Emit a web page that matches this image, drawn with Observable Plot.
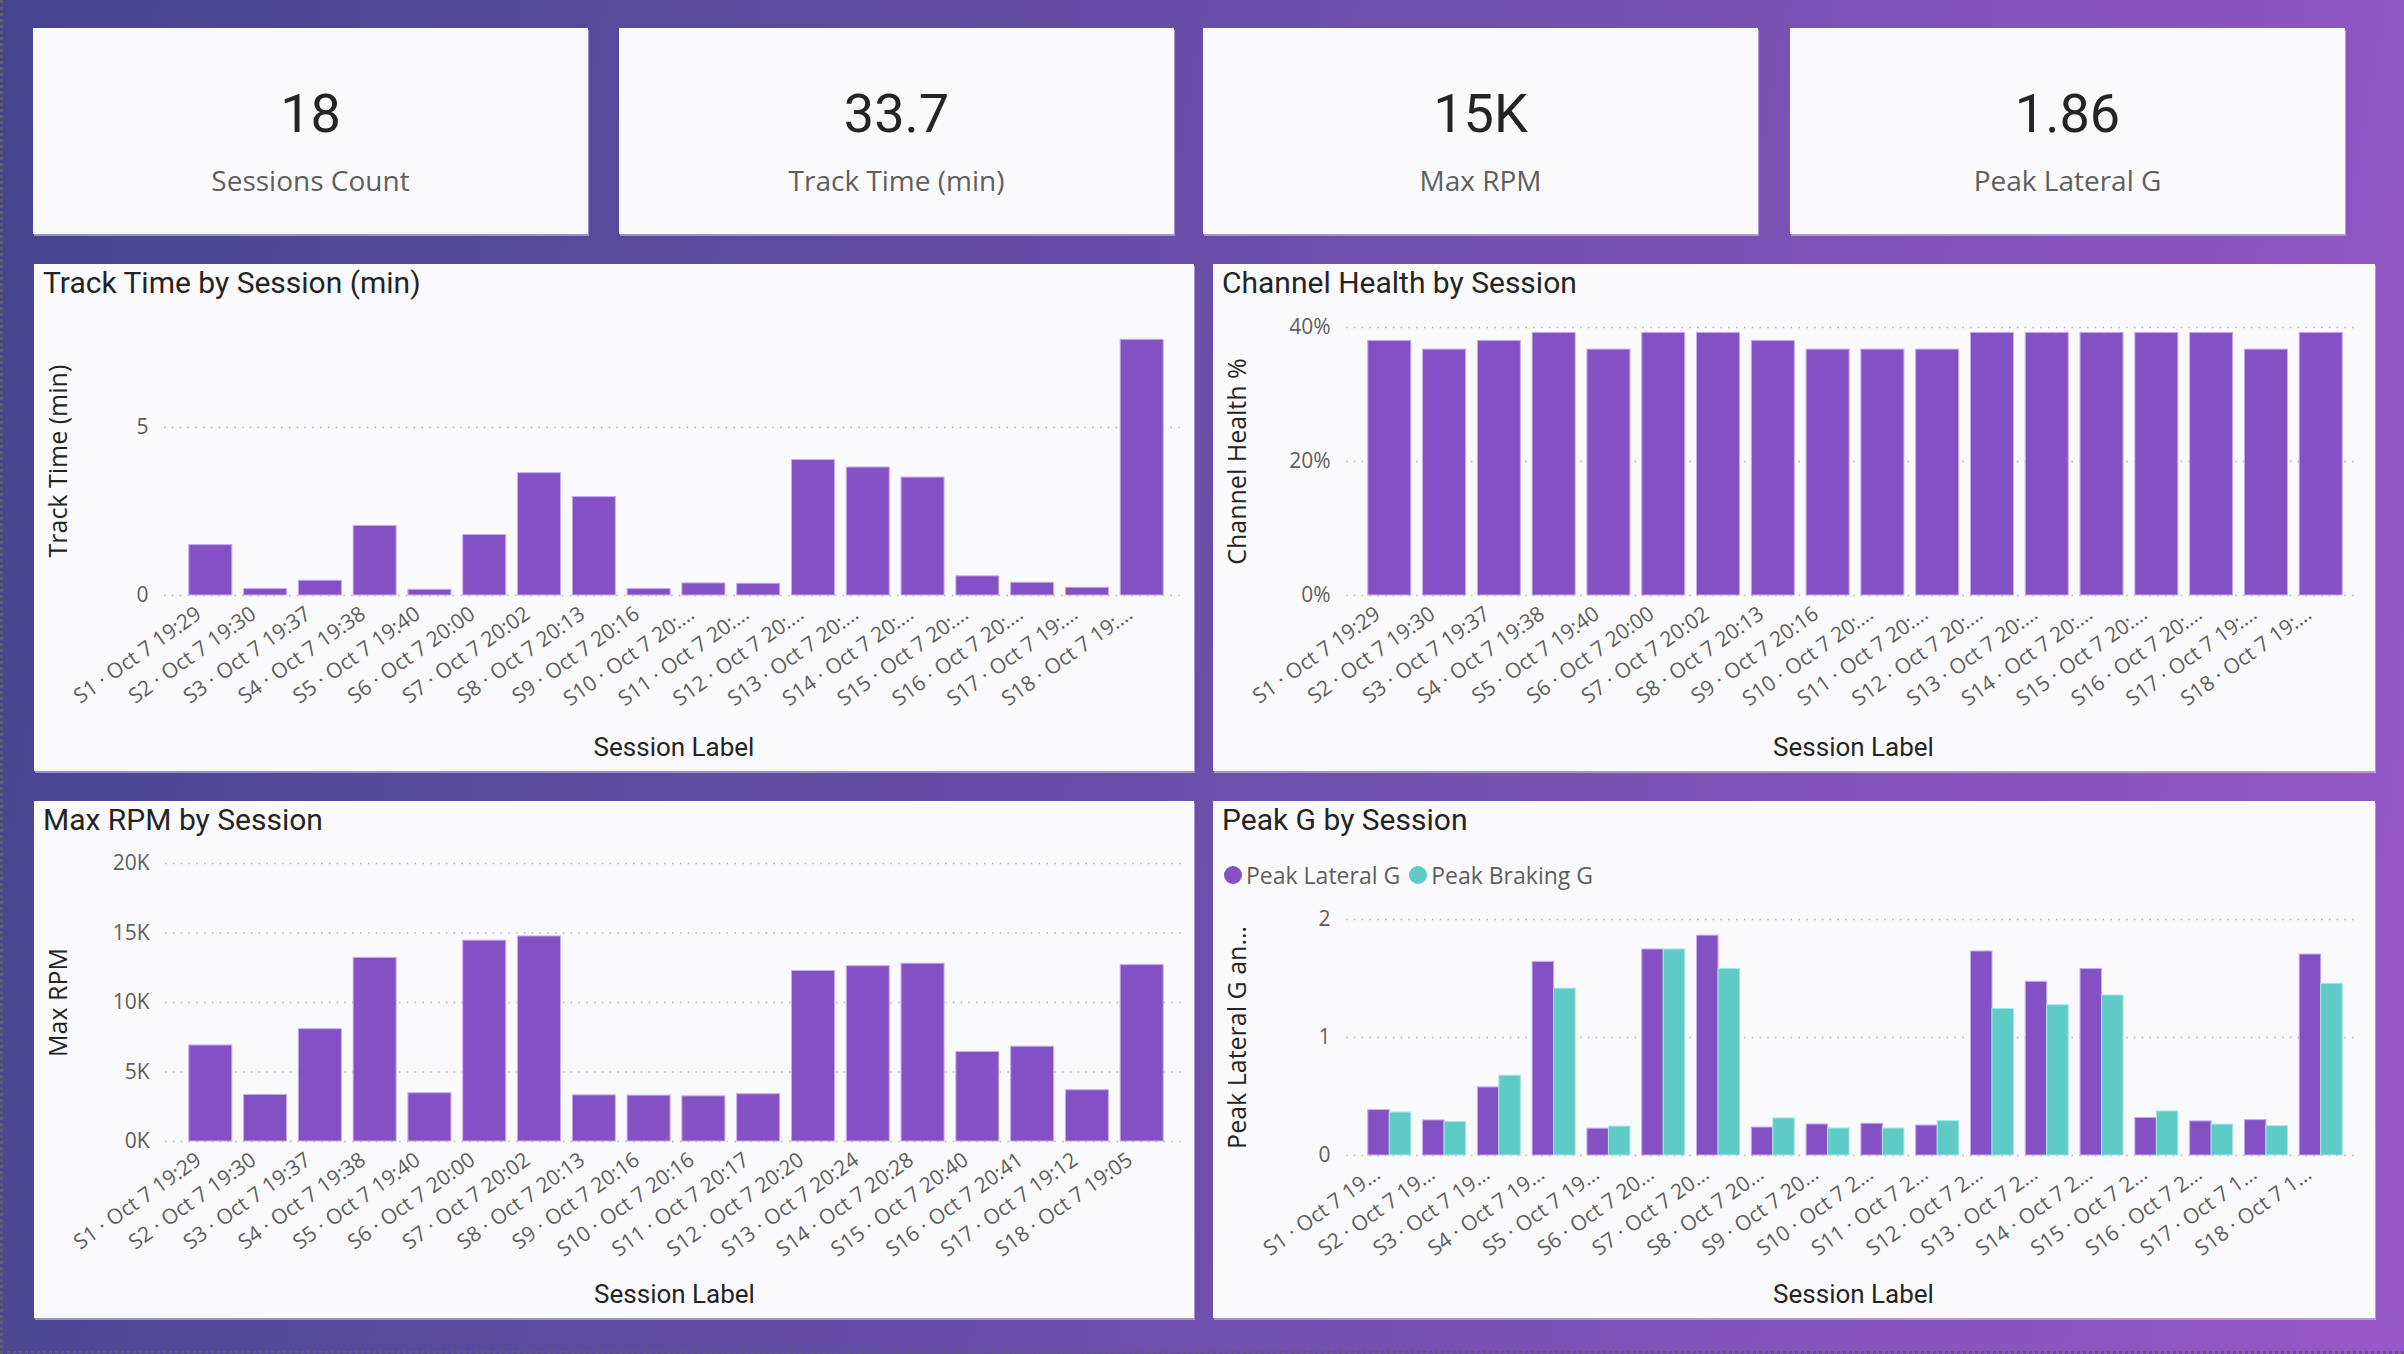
<!DOCTYPE html>
<html>
<head>
<meta charset="utf-8">
<script src="https://cdn.jsdelivr.net/npm/d3@7"></script>
<script src="https://cdn.jsdelivr.net/npm/@observablehq/plot@0.6"></script>
<style>
html, body { margin: 0; padding: 0; }
body {
  width: 2404px; height: 1354px; overflow: hidden; position: relative;
  background: linear-gradient(100deg, #47458f 0%, #6a4fa9 50%, #9857c8 100%);
  font-family: "Open Sans", sans-serif;
}
.edge { position: absolute; left: 0; top: 0; width: 2404px; height: 1354px; box-sizing: border-box;
  border-left: 3px dotted #5e5e66; border-bottom: 3px dotted #5e5e66; pointer-events: none; }
.card, .panel { position: absolute; background: #fafafc; box-shadow: 1px 2px 0 rgba(215, 205, 245, 0.55); }
.card .num { position: absolute; left: 0; right: 0; top: 56px; text-align: center;
  font-family: Roboto, sans-serif; font-size: 54px; line-height: 60px; color: #252423; }
.card .lbl { position: absolute; left: 0; right: 0; top: 133px; text-align: center;
  font-family: "Open Sans", sans-serif; font-size: 28px; line-height: 38px; color: #605e5c; }
.panel .title { position: absolute; left: 9px; top: 1px; font-family: Roboto, sans-serif;
  font-size: 30px; line-height: 36px; color: #252423; z-index: 2; white-space: nowrap; }
.panel svg { position: absolute; left: 0; top: 0; }
.legend { position: absolute; left: 11px; top: 58px; display: flex; align-items: center;
  font-family: "Open Sans", sans-serif; font-size: 23px; line-height: 32px; color: #605e5c; z-index: 2; }
.legend .dot { width: 18px; height: 18px; border-radius: 50%; display: inline-block; margin-right: 4px; }
.legend .item { display: flex; align-items: center; margin-right: 9px; }
</style>
</head>
<body>
<div id="root"></div>
<div class="edge"></div>
<script>
// ---------------- data ----------------
const sessionLabels = [
  "S1 · Oct 7 19:29", "S2 · Oct 7 19:30", "S3 · Oct 7 19:37", "S4 · Oct 7 19:38",
  "S5 · Oct 7 19:40", "S6 · Oct 7 20:00", "S7 · Oct 7 20:02", "S8 · Oct 7 20:13",
  "S9 · Oct 7 20:16", "S10 · Oct 7 20:16", "S11 · Oct 7 20:17", "S12 · Oct 7 20:20",
  "S13 · Oct 7 20:24", "S14 · Oct 7 20:28", "S15 · Oct 7 20:40", "S16 · Oct 7 20:41",
  "S17 · Oct 7 19:12", "S18 · Oct 7 19:05"
];
const trackTime = [1.50, 0.19, 0.44, 2.07, 0.17, 1.80, 3.64, 2.93, 0.19, 0.36, 0.35, 4.03, 3.81, 3.51, 0.57, 0.38, 0.23, 7.61];
const channelHealth = [0.380, 0.367, 0.380, 0.392, 0.367, 0.392, 0.392, 0.380, 0.367, 0.367, 0.367, 0.392, 0.392, 0.392, 0.392, 0.392, 0.367, 0.392];
const maxRpm = [6910, 3350, 8080, 13210, 3470, 14450, 14750, 3320, 3300, 3250, 3400, 12270, 12610, 12790, 6440, 6820, 3690, 12690];
const peakLateral = [0.385, 0.297, 0.577, 1.641, 0.227, 1.746, 1.863, 0.237, 0.263, 0.269, 0.254, 1.729, 1.472, 1.580, 0.318, 0.289, 0.300, 1.703];
const peakBraking = [0.364, 0.283, 0.676, 1.414, 0.245, 1.746, 1.580, 0.314, 0.229, 0.229, 0.291, 1.242, 1.274, 1.356, 0.373, 0.262, 0.248, 1.455];

const kpiValues = ["18", "33.7", "15K", "1.86"];
const kpiLabels = ["Sessions Count", "Track Time (min)", "Max RPM", "Peak Lateral G"];

const trackTicks = [0, 5];
const healthTicks = [0, 0.2, 0.4];
const rpmTicks = [0, 5000, 10000, 15000, 20000];
const gTicks = [0, 1, 2];

const seriesNames = ["Peak Lateral G", "Peak Braking G"];

// ---------------- styles ----------------
const PURPLE = "#8351c4";
const TEAL = "#5ecbc7";
const TICK = "#605e5c";
const DARK = "#252423";

const root = document.getElementById("root");

// KPI cards
const cardX = [33, 619, 1203, 1790];
kpiValues.forEach((v, i) => {
  const c = document.createElement("div");
  c.className = "card";
  Object.assign(c.style, {left: cardX[i] + "px", top: "28px", width: "555px", height: "206px"});
  c.innerHTML = `<div class="num">${v}</div><div class="lbl">${kpiLabels[i]}</div>`;
  root.appendChild(c);
});

function trunc(s, n) { return s.length > n ? s.slice(0, n - 1) + "…" : s; }

function panel(x, y, w, h, title) {
  const p = document.createElement("div");
  p.className = "panel";
  Object.assign(p.style, {left: x + "px", top: y + "px", width: w + "px", height: h + "px"});
  const t = document.createElement("div");
  t.className = "title";
  t.textContent = title;
  p.appendChild(t);
  root.appendChild(p);
  return p;
}

function chart({w, h, mt, mb, ml, mr, yDomain, yTicks, yFmt, yTitle, maxChars, marks}) {
  const fmt = new Map(sessionLabels.map(d => [d, trunc(d, maxChars)]));
  return Plot.plot({
    width: w, height: h, marginTop: mt, marginBottom: mb, marginLeft: ml, marginRight: mr,
    style: {background: "transparent", fontFamily: "'Open Sans', sans-serif", overflow: "visible"},
    x: {domain: sessionLabels, range: [143, 1141], padding: 0.215, round: false},
    y: {domain: yDomain},
    marks: [
      Plot.ruleY(yTicks, {stroke: "#bdbbb9", strokeWidth: 1.6, strokeDasharray: "1.6,6.2"}),
      ...marks,
      Plot.axisX({tickSize: 0, tickPadding: 16, dx: -12, tickRotate: -35.5, fontSize: 21, fill: TICK,
        label: null, tickFormat: d => fmt.get(d)}),
      Plot.axisY(yTicks, {tickSize: 0, tickPadding: 16, fontSize: 21, fill: TICK,
        label: null, tickFormat: yFmt}),
      Plot.text(["Session Label"], {text: d => d, frameAnchor: "bottom", dy: mb - 23.5,
        lineAnchor: "middle", textAnchor: "middle", fontSize: 26, fill: DARK, fontFamily: "Roboto, sans-serif"}),
      Plot.text([yTitle], {text: d => d, frameAnchor: "left", dx: -(ml - 24), rotate: -90,
        lineAnchor: "middle", textAnchor: "middle", fontSize: 25, fill: DARK})
    ]
  });
}

const rows = sessionLabels.map((label, i) => ({
  label, track: trackTime[i], health: channelHealth[i], rpm: maxRpm[i],
  lateral: peakLateral[i], braking: peakBraking[i]
}));

const barStyle = {stroke: "#c4aeea", strokeWidth: 1};

// Panel 1: Track Time
{
  const p = panel(34, 264, 1160, 507, "Track Time by Session (min)");
  p.appendChild(chart({
    w: 1160, h: 507, mt: 62.2, mb: 176, ml: 130, mr: 11,
    yDomain: [0, 8], yTicks: trackTicks, yFmt: d => String(d), yTitle: "Track Time (min)", maxChars: 16,
    marks: [Plot.barY(rows, {x: "label", y: "track", fill: PURPLE, ...barStyle})]
  }));
}
// Panel 2: Channel Health
{
  const p = panel(1213, 264, 1162, 507, "Channel Health by Session");
  p.appendChild(chart({
    w: 1162, h: 507, mt: 63, mb: 176, ml: 133, mr: 15,
    yDomain: [0, 0.4], yTicks: healthTicks, yFmt: d => Math.round(d * 100) + "%", yTitle: "Channel Health %", maxChars: 16,
    marks: [Plot.barY(rows, {x: "label", y: "health", fill: PURPLE, ...barStyle})]
  }));
}
// Panel 3: Max RPM
{
  const p = panel(34, 801, 1160, 517, "Max RPM by Session");
  p.appendChild(chart({
    w: 1160, h: 517, mt: 62, mb: 177, ml: 131, mr: 11,
    yDomain: [0, 20000], yTicks: rpmTicks, yFmt: d => Math.round(d / 1000) + "K", yTitle: "Max RPM", maxChars: 40,
    marks: [Plot.barY(rows, {x: "label", y: "rpm", fill: PURPLE, ...barStyle})]
  }));
}
// Panel 4: Peak G
{
  const p = panel(1213, 801, 1162, 517, "Peak G by Session");
  const lg = document.createElement("div");
  lg.className = "legend";
  lg.innerHTML = seriesNames.map((s, i) =>
    `<span class="item"><span class="dot" style="background:${i ? TEAL : PURPLE}"></span>${s}</span>`).join("");
  p.appendChild(lg);
  p.appendChild(chart({
    w: 1162, h: 517, mt: 118, mb: 163, ml: 133, mr: 15,
    yDomain: [0, 2], yTicks: gTicks, yFmt: d => String(d), yTitle: "Peak Lateral G an…", maxChars: 14,
    marks: [
      Plot.barY(rows, {x: "label", y: "lateral", fill: PURPLE, insetRight: 21.5, ...barStyle}),
      Plot.barY(rows, {x: "label", y: "braking", fill: TEAL, insetLeft: 21.5, stroke: "#a9e6e2", strokeWidth: 1})
    ]
  }));
}
</script>
</body>
</html>
